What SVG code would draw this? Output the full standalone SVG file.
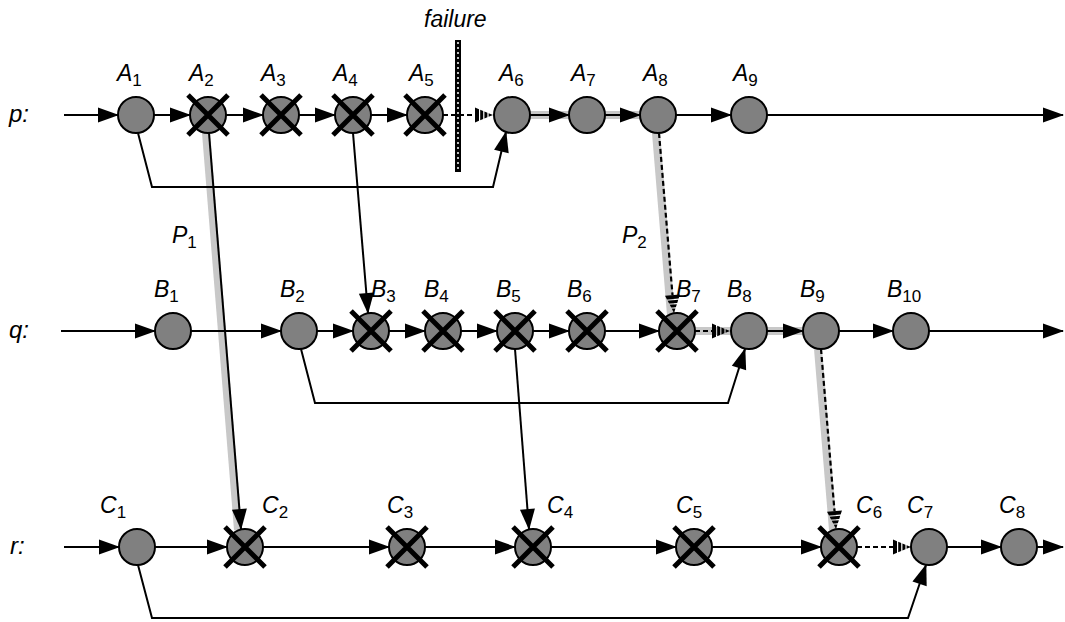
<svg xmlns="http://www.w3.org/2000/svg" width="1065" height="622" viewBox="0 0 1065 622">
<style>
.lbl{font-family:"Liberation Sans",Arial,sans-serif;font-style:italic;font-size:23px;fill:#000}
.sub{font-size:17px;font-style:normal}
.row{font-family:"Liberation Sans",Arial,sans-serif;font-style:italic;font-size:24px;fill:#000}
.n circle{fill:#808080;stroke:#000;stroke-width:2}
.x{stroke:#000;stroke-width:5;fill:none}
.ln{stroke:#000;stroke-width:2;fill:none;marker-end:url(#ah)}
.dl{stroke:#000;stroke-width:2.2;fill:none;stroke-dasharray:5 3;marker-end:url(#sh)}
.band{stroke:#c8c8c8;stroke-width:8;fill:none}
</style>
<defs>
<marker id="ah" markerUnits="userSpaceOnUse" markerWidth="22" markerHeight="18" viewBox="0 -9 22 18" refX="20" refY="0" orient="auto" overflow="visible">
<path d="M0,-7.5 L21,0 L0,7.5 z" fill="#000"/>
</marker>
<marker id="sh" markerUnits="userSpaceOnUse" markerWidth="20" markerHeight="18" viewBox="0 -9 20 18" refX="0" refY="0" orient="auto" overflow="visible">
<path d="M0,-7.5 L4,-5.83 L4,5.83 L0,7.5 z M5.2,-5.33 L8.2,-4.08 L8.2,4.08 L5.2,5.33 z M9.4,-3.58 L12.4,-2.33 L12.4,2.33 L9.4,3.58 z M13.6,-1.83 L18,0 L13.6,1.83 z" fill="#000"/>
</marker>
</defs>
<rect width="1065" height="622" fill="#fff"/>

<g id="row-labels">
<text class="row" x="9" y="122">p:</text>
<text class="row" x="9" y="338">q:</text>
<text class="row" x="10" y="554">r:</text>
</g>

<g id="failure">
<line x1="458" y1="40" x2="458" y2="172" stroke="#000" stroke-width="6"/>
<line x1="458" y1="42" x2="458" y2="171" stroke="#fff" stroke-width="1.5" stroke-dasharray="2 3"/>
<text class="lbl" x="424" y="27">failure</text>
</g>

<g id="connectors">
<g id="bands">
<line class="band" x1="512" y1="115" x2="658" y2="115"/>
<line class="band" x1="206" y1="133" x2="238" y2="530"/>
<line class="band" x1="656" y1="133" x2="671" y2="315"/>
<line class="band" x1="677" y1="331" x2="821" y2="331"/>
<line class="band" x1="818" y1="349" x2="833" y2="530"/>
</g>
<!-- row p -->
<line class="ln" x1="64" y1="115" x2="118" y2="115"/>
<line class="ln" x1="154" y1="115" x2="190" y2="115"/>
<line class="ln" x1="226" y1="115" x2="263" y2="115"/>
<line class="ln" x1="299" y1="115" x2="335" y2="115"/>
<line class="ln" x1="371" y1="115" x2="407" y2="115"/>
<line class="dl" x1="443" y1="115" x2="475" y2="115"/>
<line class="ln" x1="530" y1="115" x2="569" y2="115"/>
<line class="ln" x1="605" y1="115" x2="640" y2="115"/>
<line class="ln" x1="676" y1="115" x2="731" y2="115"/>
<line class="ln" x1="767" y1="115" x2="1063" y2="115"/>
<!-- row q -->
<line class="ln" x1="61" y1="331" x2="155" y2="331"/>
<line class="ln" x1="191" y1="331" x2="281" y2="331"/>
<line class="ln" x1="317" y1="331" x2="353" y2="331"/>
<line class="ln" x1="389" y1="331" x2="425" y2="331"/>
<line class="ln" x1="461" y1="331" x2="497" y2="331"/>
<line class="ln" x1="533" y1="331" x2="569" y2="331"/>
<line class="ln" x1="605" y1="331" x2="659" y2="331"/>
<line class="dl" x1="695" y1="331" x2="712" y2="331"/>
<line class="ln" x1="767" y1="331" x2="803" y2="331"/>
<line class="ln" x1="839" y1="331" x2="893" y2="331"/>
<line class="ln" x1="929" y1="331" x2="1063" y2="331"/>
<!-- row r -->
<line class="ln" x1="64" y1="547" x2="119" y2="547"/>
<line class="ln" x1="155" y1="547" x2="227" y2="547"/>
<line class="ln" x1="263" y1="547" x2="389" y2="547"/>
<line class="ln" x1="425" y1="547" x2="515" y2="547"/>
<line class="ln" x1="551" y1="547" x2="676" y2="547"/>
<line class="ln" x1="712" y1="547" x2="821" y2="547"/>
<line class="dl" x1="857" y1="547" x2="893" y2="547"/>
<line class="ln" x1="947" y1="547" x2="1001" y2="547"/>
<line class="ln" x1="1037" y1="547" x2="1063" y2="547"/>
<!-- cross connectors -->
<polyline class="ln" points="138,133 152,187 493,187 506,132"/>
<line class="ln" x1="353" y1="133" x2="368" y2="313"/>
<line class="ln" x1="209" y1="133" x2="241" y2="529"/>
<line class="dl" x1="659" y1="133" x2="672.5" y2="295.06"/>
<polyline class="ln" points="301,349 315,403 728,403 745,349"/>
<line class="ln" x1="515" y1="349" x2="529" y2="529"/>
<line class="dl" x1="821" y1="349" x2="834.5" y2="511.06"/>
<polyline class="ln" points="138,565 152,618 908,618 926,565"/>
</g>

<g id="P-labels">
<text class="lbl" x="172" y="243">P<tspan class="sub" dy="5">1</tspan></text>
<text class="lbl" x="622" y="243">P<tspan class="sub" dy="5">2</tspan></text>
</g>

<!-- nodes row p -->
<g id="A1" class="n"><circle cx="136" cy="115" r="18"/><text class="lbl" x="117" y="81">A<tspan class="sub" dy="5">1</tspan></text></g>
<g id="A2" class="n"><circle cx="208" cy="115" r="18"/><path class="x" d="M188,95 L228,135 M228,95 L188,135"/><text class="lbl" x="189" y="81">A<tspan class="sub" dy="5">2</tspan></text></g>
<g id="A3" class="n"><circle cx="281" cy="115" r="18"/><path class="x" d="M261,95 L301,135 M301,95 L261,135"/><text class="lbl" x="261" y="81">A<tspan class="sub" dy="5">3</tspan></text></g>
<g id="A4" class="n"><circle cx="353" cy="115" r="18"/><path class="x" d="M333,95 L373,135 M373,95 L333,135"/><text class="lbl" x="333" y="81">A<tspan class="sub" dy="5">4</tspan></text></g>
<g id="A5" class="n"><circle cx="425" cy="115" r="18"/><path class="x" d="M405,95 L445,135 M445,95 L405,135"/><text class="lbl" x="409" y="81">A<tspan class="sub" dy="5">5</tspan></text></g>
<g id="A6" class="n"><circle cx="512" cy="115" r="18"/><text class="lbl" x="499" y="81">A<tspan class="sub" dy="5">6</tspan></text></g>
<g id="A7" class="n"><circle cx="587" cy="115" r="18"/><text class="lbl" x="571" y="81">A<tspan class="sub" dy="5">7</tspan></text></g>
<g id="A8" class="n"><circle cx="658" cy="115" r="18"/><text class="lbl" x="643" y="81">A<tspan class="sub" dy="5">8</tspan></text></g>
<g id="A9" class="n"><circle cx="749" cy="115" r="18"/><text class="lbl" x="733" y="81">A<tspan class="sub" dy="5">9</tspan></text></g>

<!-- nodes row q -->
<g id="B1" class="n"><circle cx="173" cy="331" r="18"/><text class="lbl" x="154" y="297">B<tspan class="sub" dy="5">1</tspan></text></g>
<g id="B2" class="n"><circle cx="299" cy="331" r="18"/><text class="lbl" x="280" y="297">B<tspan class="sub" dy="5">2</tspan></text></g>
<g id="B3" class="n"><circle cx="371" cy="331" r="18"/><path class="x" d="M351,311 L391,351 M391,311 L351,351"/><text class="lbl" x="371" y="297">B<tspan class="sub" dy="5">3</tspan></text></g>
<g id="B4" class="n"><circle cx="443" cy="331" r="18"/><path class="x" d="M423,311 L463,351 M463,311 L423,351"/><text class="lbl" x="424" y="297">B<tspan class="sub" dy="5">4</tspan></text></g>
<g id="B5" class="n"><circle cx="515" cy="331" r="18"/><path class="x" d="M495,311 L535,351 M535,311 L495,351"/><text class="lbl" x="496" y="297">B<tspan class="sub" dy="5">5</tspan></text></g>
<g id="B6" class="n"><circle cx="587" cy="331" r="18"/><path class="x" d="M567,311 L607,351 M607,311 L567,351"/><text class="lbl" x="567" y="297">B<tspan class="sub" dy="5">6</tspan></text></g>
<g id="B7" class="n"><circle cx="677" cy="331" r="18"/><path class="x" d="M657,311 L697,351 M697,311 L657,351"/><text class="lbl" x="676" y="297">B<tspan class="sub" dy="5">7</tspan></text></g>
<g id="B8" class="n"><circle cx="749" cy="331" r="18"/><text class="lbl" x="727" y="297">B<tspan class="sub" dy="5">8</tspan></text></g>
<g id="B9" class="n"><circle cx="821" cy="331" r="18"/><text class="lbl" x="800" y="297">B<tspan class="sub" dy="5">9</tspan></text></g>
<g id="B10" class="n"><circle cx="911" cy="331" r="18"/><text class="lbl" x="887" y="297">B<tspan class="sub" dy="5">10</tspan></text></g>

<!-- nodes row r -->
<g id="C1" class="n"><circle cx="137" cy="547" r="18"/><text class="lbl" x="100" y="513">C<tspan class="sub" dy="5">1</tspan></text></g>
<g id="C2" class="n"><circle cx="245" cy="547" r="18"/><path class="x" d="M225,527 L265,567 M265,527 L225,567"/><text class="lbl" x="262" y="513">C<tspan class="sub" dy="5">2</tspan></text></g>
<g id="C3" class="n"><circle cx="407" cy="547" r="18"/><path class="x" d="M387,527 L427,567 M427,527 L387,567"/><text class="lbl" x="387" y="513">C<tspan class="sub" dy="5">3</tspan></text></g>
<g id="C4" class="n"><circle cx="533" cy="547" r="18"/><path class="x" d="M513,527 L553,567 M553,527 L513,567"/><text class="lbl" x="547" y="513">C<tspan class="sub" dy="5">4</tspan></text></g>
<g id="C5" class="n"><circle cx="694" cy="547" r="18"/><path class="x" d="M674,527 L714,567 M714,527 L674,567"/><text class="lbl" x="676" y="513">C<tspan class="sub" dy="5">5</tspan></text></g>
<g id="C6" class="n"><circle cx="839" cy="547" r="18"/><path class="x" d="M819,527 L859,567 M859,527 L819,567"/><text class="lbl" x="856" y="513">C<tspan class="sub" dy="5">6</tspan></text></g>
<g id="C7" class="n"><circle cx="929" cy="547" r="18"/><text class="lbl" x="907" y="513">C<tspan class="sub" dy="5">7</tspan></text></g>
<g id="C8" class="n"><circle cx="1019" cy="547" r="18"/><text class="lbl" x="999" y="513">C<tspan class="sub" dy="5">8</tspan></text></g>
</svg>
